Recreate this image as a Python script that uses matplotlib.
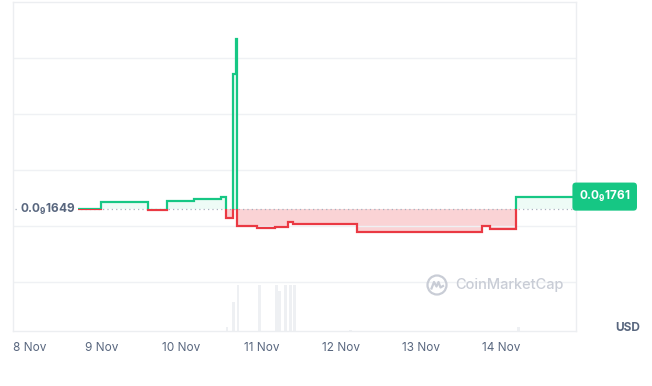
"""
plot.py — CoinMarketCap style 7-day price chart (tiny-cap token, 0.0₉xxxx USD).
"""

import numpy as np
import pandas as pd
import matplotlib
matplotlib.use("Agg")
import matplotlib.pyplot as plt
import matplotlib.dates as mdates
from matplotlib.patches import Rectangle, Circle
from matplotlib.lines import Line2D
from matplotlib.transforms import IdentityTransform, ScaledTranslation

plt.rcParams.update({
    "font.family":      ["Inter", "DejaVu Sans"],
    "mathtext.fontset": "custom",
    "mathtext.rm":      "Inter",
    "mathtext.bf":      "Inter:bold",
})

GREEN    = "#16c784"
RED      = "#ea3943"
GREY_TXT = "#58667e"
GRID     = "#eff1f4"

# ── Data (price in units of 1e-13 USD, i.e. 0.0₉xxxx) ─────────────────────────
price_time = [
    "2023-11-08 14:38", "2023-11-08 23:46", "2023-11-09 13:55", "2023-11-09 19:41",
    "2023-11-10 03:50", "2023-11-10 12:00", "2023-11-10 13:19", "2023-11-10 15:22",
    "2023-11-10 16:19", "2023-11-10 16:48", "2023-11-10 22:34", "2023-11-11 04:05",
    "2023-11-11 07:55", "2023-11-11 09:36", "2023-11-12 04:34", "2023-11-13 18:14",
    "2023-11-13 20:24", "2023-11-14 04:19", "2023-11-14 22:20",
]
price_value = [
    1649, 1710, 1640, 1724,
    1742, 1760, 1567, 2860,
    3168, 1495, 1476, 1488,
    1536, 1518, 1449, 1494,
    1473, 1761, 1761,
]
base_price = 1649
last_price = 1761

vol_time = [
    "2023-11-10 13:40", "2023-11-10 15:35", "2023-11-10 17:00", "2023-11-10 23:25",
    "2023-11-11 04:35", "2023-11-11 05:30", "2023-11-11 07:10", "2023-11-11 08:40",
    "2023-11-11 09:50", "2023-11-12 02:40", "2023-11-14 05:00",
]
vol_value = [4, 29, 46, 46, 46, 40, 46, 46, 46, 1.5, 4]

grid_levels = [1000, 1500, 2000, 2500, 3000]

# ── Step path ─────────────────────────────────────────────────────────────────
t = mdates.date2num(pd.to_datetime(price_time))
v = np.array(price_value, dtype=float)
xs, ys = [], []
for i in range(len(t) - 1):
    xs += [t[i], t[i + 1]]
    ys += [v[i], v[i]]
xs.append(t[-1]); ys.append(v[-1])
xs = np.array(xs); ys = np.array(ys)

x0 = mdates.date2num(pd.Timestamp("2023-11-07 21:30"))
x1 = mdates.date2num(pd.Timestamp("2023-11-14 22:20"))
y0, y1 = 560, 3500

# ── Figure ────────────────────────────────────────────────────────────────────
fig = plt.figure(figsize=(6.52, 3.86), dpi=100)
ax = fig.add_axes([13 / 652, 55 / 386, 563 / 652, 329 / 386])
ax2 = ax.twinx()
ax.set_zorder(ax2.get_zorder() + 1)
ax.patch.set_visible(False)

# volume
vt = mdates.date2num(pd.to_datetime(vol_time))
ax2.bar(vt, vol_value, width=0.035, color="#eef0f3", linewidth=0)
ax2.set_ylim(0, max(vol_value) * 329 / 46)
ax2.set_xlim(x0, x1)
ax2.axis("off")

# fills
ax.fill_between(xs, ys, base_price, where=ys >= base_price, interpolate=True,
                color=GREEN, alpha=0.07, linewidth=0)
ax.fill_between(xs, ys, base_price, where=ys <= base_price, interpolate=True,
                color=RED, alpha=0.22, linewidth=0)

# line, coloured by side of the base price
for col, rect in [(GREEN, (x0, base_price, x1 - x0, y1 - base_price)),
                  (RED,   (x0, y0, x1 - x0, base_price - y0))]:
    ln, = ax.plot(xs, ys, color=col, lw=1.6, solid_joinstyle="miter", zorder=4)
    clip = Rectangle(rect[:2], rect[2], rect[3], transform=ax.transData)
    ln.set_clip_path(clip)

ax.axhline(base_price, xmin=0.003, color="#a9b1bf", lw=0.9,
           ls=(0, (1, 2.5)), zorder=3)

ax.set_xlim(x0, x1)
ax.set_ylim(y0, y1)
ax.set_yticks(grid_levels)
ax.yaxis.set_tick_params(length=0, labelleft=False)
ax.grid(True, axis="y", color=GRID, lw=1)

ax.xaxis.set_major_locator(mdates.DayLocator())
ax.xaxis.set_major_formatter(mdates.DateFormatter("%-d %b"))
ax.tick_params(axis="x", length=0, pad=8, labelsize=8.5, labelcolor=GREY_TXT)
for s in ax.spines.values():
    s.set_color("#eceef1")
    s.set_linewidth(1)
fig.canvas.draw()
lbls = ax.get_xticklabels()
if lbls:
    lbls[0].set_transform(lbls[0].get_transform() +
                          ScaledTranslation(8 / 100, 0, fig.dpi_scale_trans))

# price labels
ax.text((20 - 13) / 563, base_price, r"0.0$_{\mathbf{9}}$1649",
        transform=ax.get_yaxis_transform(), ha="left", va="center",
        fontsize=8.5, fontweight="bold", color=GREY_TXT, zorder=5,
        bbox=dict(facecolor="white", edgecolor="none", pad=1.5))
ax.text(1 + (604.7 - 576) / 563, last_price, r"0.0$_{\mathbf{9}}$1761",
        transform=ax.get_yaxis_transform(), ha="center", va="center",
        fontsize=8.5, fontweight="bold", color="white", zorder=6, clip_on=False,
        bbox=dict(boxstyle="round,pad=0.55,rounding_size=0.3",
                  facecolor=GREEN, edgecolor="none"))

fig.text(628 / 652, 1 - 328 / 386, "USD", ha="center", va="center",
         fontsize=8.5, fontweight="bold", color=GREY_TXT)

# watermark
WM = "#c9cdd6"
fig.text(455 / 652, 1 - 285 / 386, "CoinMarketCap", ha="left", va="center",
         fontsize=10.5, fontweight="medium", color=WM)
cx, cy = 437, 386 - 285
fig.patches.append(Circle((cx, cy), 9.5, transform=IdentityTransform(),
                          fill=False, edgecolor=WM, lw=1.6))
wx = np.array([-5.5, -3, -0.5, 1.5, 3.5, 6])
wy = np.array([-3.5, 3, -1.5, 3, -2.5, -1])
fig.lines.append(Line2D(cx + wx, cy + wy, transform=IdentityTransform(),
                        color=WM, lw=1.6, solid_joinstyle="round"))

fig.savefig("out.png", dpi=100)
